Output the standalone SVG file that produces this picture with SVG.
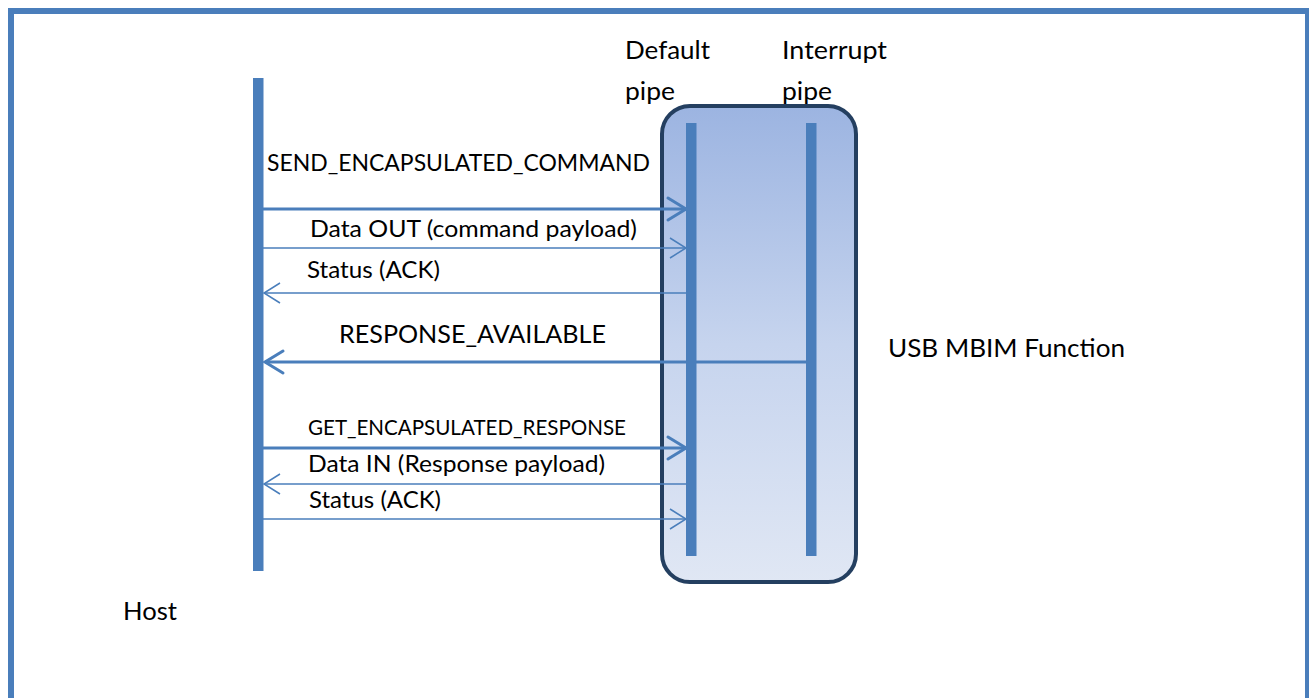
<svg xmlns="http://www.w3.org/2000/svg" width="1309" height="698" viewBox="0 0 1309 698">
  <defs>
    <linearGradient id="fnFill" x1="0" y1="0" x2="0" y2="1">
      <stop offset="0" stop-color="#9CB4E1"/>
      <stop offset="0.5" stop-color="#C6D4EE"/>
      <stop offset="1" stop-color="#E0E7F4"/>
    </linearGradient>
    <marker id="headThick" markerUnits="userSpaceOnUse" viewBox="-20 -13 22 26" refX="0" refY="0" markerWidth="22" markerHeight="26" orient="auto" overflow="visible">
      <path d="M-18,-11 L0,0 L-18,11" fill="none" stroke="#4A7EBB" stroke-width="3" stroke-linecap="round" stroke-linejoin="miter"/>
    </marker>
    <marker id="headThin" markerUnits="userSpaceOnUse" viewBox="-18 -12 20 24" refX="0" refY="0" markerWidth="20" markerHeight="24" orient="auto" overflow="visible">
      <path d="M-16,-10 L0,0 L-16,10" fill="none" stroke="#4A7EBB" stroke-width="1.5" stroke-linejoin="miter"/>
    </marker>
  </defs>
  <style>
    text { font-family: Lato, "Open Sans", "Liberation Sans", sans-serif; fill: #000; }
    .lg { font-size: 25.5px; }
    .md { font-size: 24px; }
    .sm { font-size: 21.5px; }
    .lifeline { fill: #4A7EBB; }
    .msg { fill: none; stroke: #4A7EBB; }
    .thick { stroke-width: 3; marker-end: url(#headThick); }
    .thin { stroke-width: 1.5; marker-end: url(#headThin); }
  </style>

  <rect width="1309" height="698" fill="#FFFFFF"/>
  <!-- outer frame -->
  <rect x="11" y="11" width="1297" height="700" fill="none" stroke="#4A7EBB" stroke-width="6"/>

  <!-- host side -->
  <g id="host">
    <rect class="lifeline" x="253" y="78" width="10.5" height="493"/>
    <text class="lg" x="123" y="620" textLength="54" lengthAdjust="spacingAndGlyphs">Host</text>
  </g>

  <!-- device function with its two pipes -->
  <g id="usb-function">
    <rect x="662" y="106" width="194" height="476" rx="28" ry="28" fill="url(#fnFill)" stroke="#243F60" stroke-width="4"/>
    <text class="lg" x="888" y="357" textLength="237" lengthAdjust="spacingAndGlyphs">USB MBIM Function</text>
  </g>

  <g id="default-pipe">
    <text class="lg" x="625" y="59" textLength="85" lengthAdjust="spacingAndGlyphs">Default</text>
    <text class="lg" x="625" y="100" textLength="50" lengthAdjust="spacingAndGlyphs">pipe</text>
  </g>

  <g id="interrupt-pipe">
    <text class="lg" x="782" y="59" textLength="105" lengthAdjust="spacingAndGlyphs">Interrupt</text>
    <text class="lg" x="782" y="100" textLength="50" lengthAdjust="spacingAndGlyphs">pipe</text>
  </g>

  <!-- message arrows -->
  <g id="connectors">
    <line class="msg thick" x1="263" y1="209" x2="686" y2="209"/>
    <line class="msg thin" x1="263" y1="248" x2="686" y2="248"/>
    <line class="msg thin" x1="686" y1="293" x2="264" y2="293"/>
    <line class="msg thick" x1="806" y1="362" x2="265" y2="362"/>
    <line class="msg thick" x1="263" y1="448" x2="686" y2="448"/>
    <line class="msg thin" x1="686" y1="484" x2="264" y2="484"/>
    <line class="msg thin" x1="263" y1="519" x2="686" y2="519"/>

    <text class="md" x="267" y="171" textLength="383" lengthAdjust="spacingAndGlyphs">SEND_ENCAPSULATED_COMMAND</text>
    <text class="md" x="310" y="237" textLength="327" lengthAdjust="spacingAndGlyphs">Data OUT (command payload)</text>
    <text class="md" x="307" y="278" textLength="133" lengthAdjust="spacingAndGlyphs">Status (ACK)</text>
    <text class="lg" x="339" y="343" textLength="267" lengthAdjust="spacingAndGlyphs">RESPONSE_AVAILABLE</text>
    <text class="sm" x="308" y="435" textLength="318" lengthAdjust="spacingAndGlyphs">GET_ENCAPSULATED_RESPONSE</text>
    <text class="md" x="308" y="472" textLength="297" lengthAdjust="spacingAndGlyphs">Data IN (Response payload)</text>
    <text class="md" x="309" y="508" textLength="132" lengthAdjust="spacingAndGlyphs">Status (ACK)</text>
  </g>

  <!-- pipe bars drawn over the arrows -->
  <g id="pipe-bars">
    <rect class="lifeline" x="686" y="123" width="10.5" height="433"/>
    <rect class="lifeline" x="806" y="123" width="10.5" height="433"/>
  </g>
</svg>
